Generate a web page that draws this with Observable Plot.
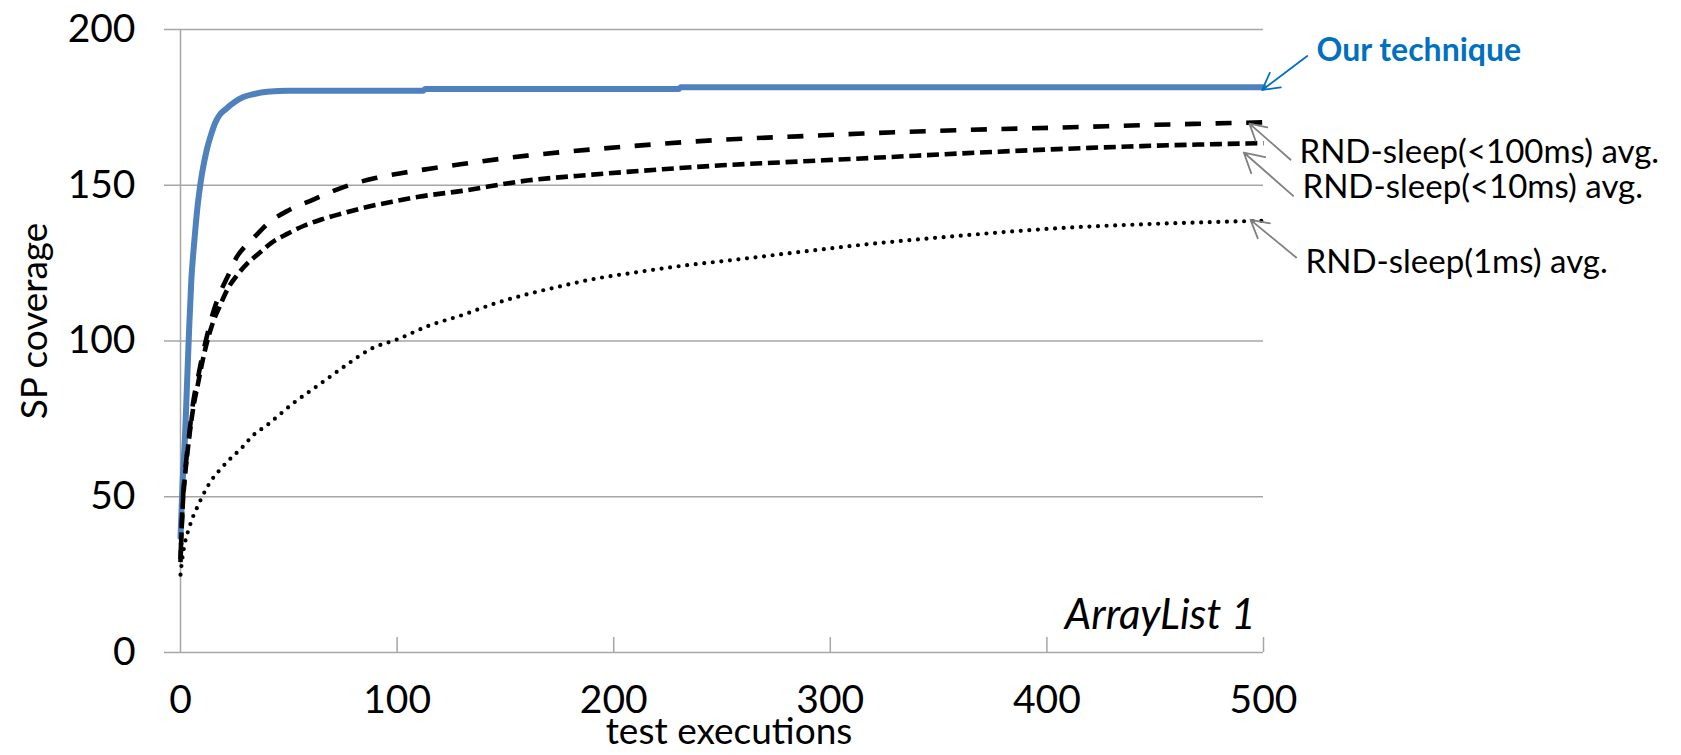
<!DOCTYPE html>
<html>
<head>
<meta charset="utf-8">
<script src="https://cdn.jsdelivr.net/npm/d3@7"></script>
<script src="https://cdn.jsdelivr.net/npm/@observablehq/plot@0.6"></script>
<style>
  html, body { margin: 0; padding: 0; background: #fff; }
  #chart svg { display: block; }
</style>
</head>
<body>
<div id="chart"></div>
<script>
// SP coverage after N test executions, ArrayList 1
const oursX = [0, 1, 2, 3, 4, 5, 6, 7, 8, 9, 10, 12, 14, 16, 18, 21, 25, 29, 34, 40, 50, 112, 113, 230, 231, 500];
const oursY = [37, 55, 68, 86, 104, 119.5, 129, 137, 144, 149.5, 154, 161, 166, 170, 172.5, 174.5, 176.7, 178.3, 179.3, 180, 180.3, 180.3, 180.9, 180.9, 181.5, 181.5];

const rnd100X = [0, 1, 2, 3, 4, 6, 8, 10, 12, 15, 18, 22, 26, 30, 35, 40, 50, 60, 70, 80, 90, 103, 115, 130, 160, 190, 220, 250, 285, 315, 360, 405, 450, 500];
const rnd100Y = [30, 48, 57, 64, 70, 81, 88, 95, 101, 109, 115, 121, 127, 130.5, 134, 137.5, 142, 145, 148, 150.5, 152.3, 154, 155.3, 156.8, 159.5, 161.5, 163.2, 164.6, 165.7, 166.6, 167.7, 168.5, 169.4, 170.2];

const rnd10X = [0, 1, 2, 3, 4, 6, 8, 10, 12, 15, 18, 22, 26, 31, 36, 42, 49, 57, 65, 75, 86, 100, 110, 130, 160, 190, 220, 250, 285, 320, 360, 405, 450, 500];
const rnd10Y = [29, 47, 56, 63, 69, 79, 86, 93, 99, 106, 111, 117, 121, 125, 128, 131.5, 134.3, 137, 139, 141, 143, 145, 146.3, 148.2, 151.5, 153.4, 155, 156.4, 157.6, 158.8, 160.2, 161.6, 162.7, 163.5];

const rnd1X = [0, 1, 2, 4, 6, 8, 10, 14, 18, 22, 28, 34, 40, 46, 52, 60, 68, 78, 88, 100, 115, 130, 145, 160, 175, 190, 210, 230, 255, 285, 315, 360, 405, 450, 500];
const rnd1Y = [25, 31, 35, 40, 44, 47, 50, 55, 58.5, 61.5, 65.5, 70, 73, 76.5, 80, 84, 88, 93, 97.5, 100.5, 105, 108.3, 112, 115, 117.5, 119.8, 122, 124, 126, 128.5, 130.9, 133.8, 136.2, 137.6, 138.6];

// axis ticks
const xTicks = [0, 100, 200, 300, 400, 500];
const yTicks = [0, 50, 100, 150, 200];

// series call-outs: label anchor, arrow tail and arrow tip (data units)
const labelText = ["Our technique", "RND-sleep(<100ms) avg.", "RND-sleep(<10ms) avg.", "RND-sleep(1ms) avg."];
const labelX = [524.5, 516.6, 518, 519.4];
const labelY = [190, 157.2, 146, 121.9];
const arrowFromX = [520.2, 512.5, 513.7, 515.1];
const arrowFromY = [191.5, 158.2, 146.6, 126.8];
const arrowToX = [499.4, 493.5, 490.9, 494];
const arrowToY = [180.6, 169.8, 160.5, 138.9];

const rows = (xs, ys) => xs.map((x, i) => ({x, y: ys[i]}));
const callouts = labelText.map((text, i) => ({
  text, lx: labelX[i], ly: labelY[i],
  x1: arrowFromX[i], y1: arrowFromY[i], x2: arrowToX[i], y2: arrowToY[i],
  highlight: i === 0
}));
const mainCallout = callouts.filter(d => d.highlight);
const otherCallouts = callouts.filter(d => !d.highlight);

const W = 1681, H = 755;
const mLeft = 180, mRight = 418, mTop = 29, mBottom = 103;
const frameH = H - mTop - mBottom;
const gridColor = "#a6a6a6";
const font = "Lato, 'Open Sans', sans-serif";

const chart = Plot.plot({
  width: W,
  height: H,
  marginLeft: mLeft,
  marginRight: mRight,
  marginTop: mTop,
  marginBottom: mBottom,
  style: {fontFamily: font, background: "#fff", overflow: "visible", color: "#000"},
  x: {domain: [0, 500]},
  y: {domain: [0, 200]},
  marks: [
    Plot.gridY({ticks: [50, 100, 150, 200], stroke: gridColor, strokeOpacity: 1, strokeWidth: 1.5}),
    Plot.ruleY([0], {stroke: gridColor, strokeWidth: 1.5}),
    Plot.ruleX([0], {stroke: gridColor, strokeWidth: 1.5}),
    Plot.ruleX(xTicks.slice(1), {stroke: gridColor, strokeWidth: 1.5, insetTop: frameH - 15}),
    Plot.axisY({ticks: yTicks, tickSize: 16, tickPadding: 29, fontSize: 39, stroke: gridColor, strokeWidth: 1.5, fill: "#000", label: null}),
    Plot.axisX({ticks: xTicks, tickSize: 0, tickPadding: 33, fontSize: 39, fill: "#000", label: null}),

    Plot.line(rows(oursX, oursY), {x: "x", y: "y", stroke: "#4f81bd", strokeWidth: 6, curve: "monotone-x", strokeLinejoin: "round", strokeLinecap: "round"}),
    Plot.line(rows(rnd1X, rnd1Y), {x: "x", y: "y", stroke: "#000", strokeWidth: 4.2, curve: "monotone-x", strokeLinecap: "round", strokeDasharray: "0,8.6"}),
    Plot.line(rows(rnd10X, rnd10Y), {x: "x", y: "y", stroke: "#000", strokeWidth: 4.6, curve: "monotone-x", strokeLinecap: "butt", strokeDasharray: "12,5.7"}),
    Plot.line(rows(rnd100X, rnd100Y), {x: "x", y: "y", stroke: "#000", strokeWidth: 4.6, curve: "monotone-x", strokeLinecap: "butt", strokeDasharray: "16,14.6"}),

    Plot.arrow(mainCallout, {x1: "x1", y1: "y1", x2: "x2", y2: "y2", stroke: "#0070c0", strokeWidth: 1.8, headLength: 19, headAngle: 58}),
    Plot.arrow(otherCallouts, {x1: "x1", y1: "y1", x2: "x2", y2: "y2", stroke: "#808080", strokeWidth: 1.8, headLength: 19, headAngle: 58}),
    Plot.text(mainCallout, {x: "lx", y: "ly", text: "text", textAnchor: "start", lineAnchor: "bottom", fill: "#0070c0", fontWeight: "bold", fontSize: 32}),
    Plot.text(otherCallouts, {x: "lx", y: "ly", text: "text", textAnchor: "start", lineAnchor: "bottom", fill: "#000", fontSize: 33}),

    Plot.text(["SP coverage"], {frameAnchor: "left", rotate: -90, dx: -134, dy: -20, lineAnchor: "bottom", textAnchor: "middle", fontSize: 37, fill: "#000"}),
    Plot.text(["test executions"], {frameAnchor: "bottom", dx: 7, dy: 91, lineAnchor: "bottom", textAnchor: "middle", fontSize: 37, fill: "#000"}),
    Plot.text(["ArrayList 1"], {frameAnchor: "bottom-right", dx: -8, dy: -24, lineAnchor: "bottom", textAnchor: "end", fontSize: 42, fontStyle: "italic", fill: "#000"})
  ]
});

document.getElementById("chart").appendChild(chart);
</script>
</body>
</html>
